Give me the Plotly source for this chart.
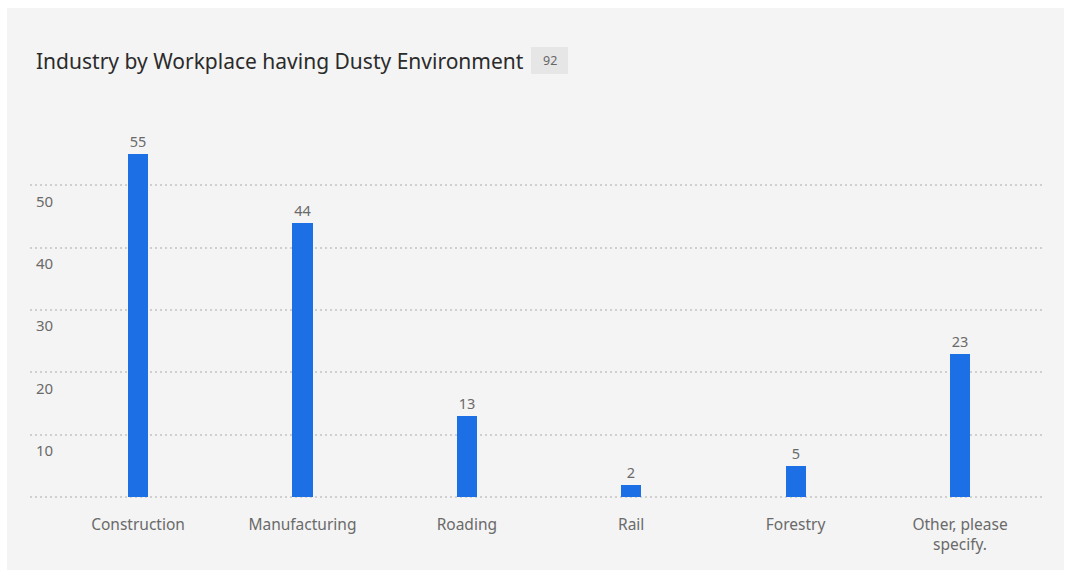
import plotly.graph_objects as go

# Survey responses by industry
categories = ["Construction", "Manufacturing", "Roading", "Rail", "Forestry", "Other, please<br>specify."]
counts = [55, 44, 13, 2, 5, 23]
y_ticks = [0, 10, 20, 30, 40, 50]
y_tick_labels = ["", "10", "20", "30", "40", "50"]
title_text = "Industry by Workplace having Dusty Environment"
total_responses = 92

W, H = 1070, 579
ML, MR, MT, MB = 30, 25, 123, 80
pw, ph = W - ML - MR, H - MT - MB


def px_x(p):
    return (p - ML) / pw


def px_y(p):
    return (H - MB - p) / ph


FONT = "Noto Sans, Open Sans, sans-serif"

fig = go.Figure(
    go.Bar(
        x=list(range(len(categories))),
        y=counts,
        width=0.123,
        marker=dict(color="#1d6fe6", line=dict(width=0)),
        text=counts,
        texttemplate="%{text}",
        textposition="outside",
        cliponaxis=False,
        textfont=dict(family=FONT, size=14.5, color="#6a6a6a"),
        hoverinfo="skip",
    )
)

fig.update_layout(
    width=W,
    height=H,
    margin=dict(l=ML, r=MR, t=MT, b=MB, pad=0),
    paper_bgcolor="#ffffff",
    plot_bgcolor="rgba(0,0,0,0)",
    showlegend=False,
    font=dict(family=FONT),
    bargap=0,
    xaxis=dict(
        range=[-0.657, 5.517],
        tickvals=list(range(len(categories))),
        ticktext=categories,
        tickfont=dict(family=FONT, size=15.5, color="#6a6a6a"),
        showgrid=False,
        zeroline=False,
        showline=False,
        ticks="",
        ticklabelstandoff=14,
        fixedrange=True,
    ),
    yaxis=dict(
        range=[-0.3, 60],
        tickvals=y_ticks,
        ticktext=y_tick_labels,
        tickfont=dict(family=FONT, size=15, color="#6a6a6a"),
        ticklabelposition="inside",
        ticklabelshift=16,
        ticklabelstandoff=3,
        showgrid=True,
        gridcolor="#cfcfcf",
        gridwidth=1.5,
        griddash="2px,3px",
        zeroline=False,
        showline=False,
        ticks="",
        fixedrange=True,
    ),
    shapes=[
        dict(
            type="rect", xref="paper", yref="paper", layer="below",
            x0=px_x(7), x1=px_x(1064), y0=px_y(570), y1=px_y(8),
            fillcolor="#f4f4f4", line=dict(width=0),
        ),
        dict(
            type="rect", xref="paper", yref="paper", layer="below",
            x0=px_x(531), x1=px_x(568), y0=px_y(74), y1=px_y(47),
            fillcolor="#e6e6e6", line=dict(width=0),
        ),
    ],
    annotations=[
        dict(
            text=title_text, xref="paper", yref="paper",
            x=px_x(34), y=px_y(61), xanchor="left", yanchor="middle",
            showarrow=False, font=dict(family=FONT, size=21, color="#2b2b2b"),
        ),
        dict(
            text=str(total_responses), xref="paper", yref="paper",
            x=px_x(549.5), y=px_y(61), xanchor="center", yanchor="middle",
            showarrow=False, font=dict(family=FONT, size=12.5, color="#666666"),
        ),
    ],
)

fig.write_html("out.html", config={"displayModeBar": False})
